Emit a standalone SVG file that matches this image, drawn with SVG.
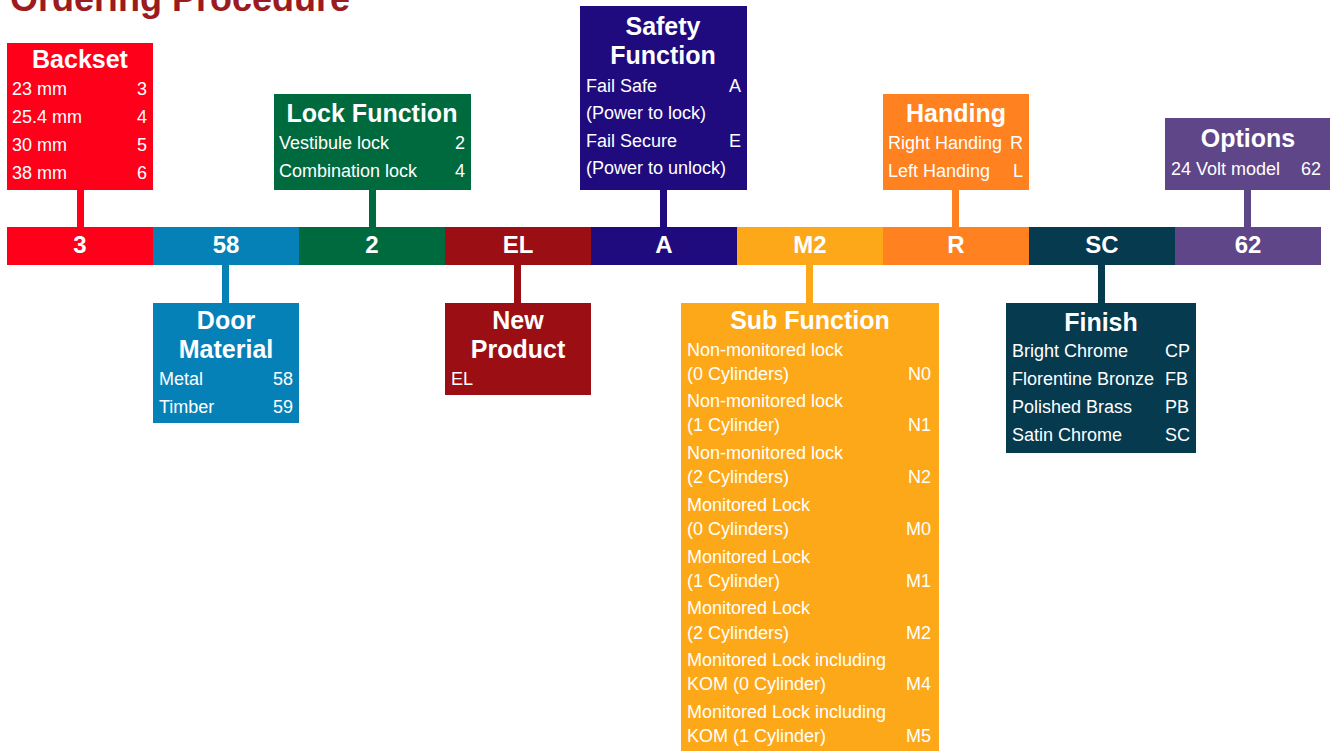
<svg xmlns="http://www.w3.org/2000/svg" width="1332" height="751" viewBox="0 0 1332 751">
<style>
.h{font-family:"Liberation Sans",Arial,sans-serif;font-weight:bold;font-size:25px;fill:#fff;text-anchor:middle}
.b{font-family:"Liberation Sans",Arial,sans-serif;font-size:18px;fill:#fff}
.r{text-anchor:end}
.bar{font-family:"Liberation Sans",Arial,sans-serif;font-weight:bold;font-size:24px;fill:#fff;text-anchor:middle}
.title{font-family:"Liberation Sans",Arial,sans-serif;font-weight:bold;font-size:36px;fill:#9C1B1F}
</style>
<rect width="1332" height="751" fill="#fff"/>
<text class="title" x="10" y="11">Ordering Procedure</text>

<g id="connectors">
<rect x="77" y="189" width="7" height="39" fill="#FF001A"/>
<rect x="369" y="189" width="7" height="39" fill="#006A3F"/>
<rect x="660" y="189" width="7" height="39" fill="#1F0B7E"/>
<rect x="952" y="189" width="7" height="39" fill="#FF8120"/>
<rect x="1244" y="189" width="7" height="39" fill="#5E4689"/>
<rect x="222" y="264" width="7" height="40" fill="#0681B8"/>
<rect x="514" y="264" width="7" height="40" fill="#9B0E13"/>
<rect x="806" y="264" width="7" height="40" fill="#FDA819"/>
<rect x="1098" y="264" width="7" height="40" fill="#063A4F"/>
</g>

<g id="bar">
<rect x="7" y="227" width="146" height="38" fill="#FF001A"/>
<rect x="153" y="227" width="146" height="38" fill="#0681B8"/>
<rect x="299" y="227" width="146" height="38" fill="#006A3F"/>
<rect x="445" y="227" width="146" height="38" fill="#9B0E13"/>
<rect x="591" y="227" width="146" height="38" fill="#1F0B7E"/>
<rect x="737" y="227" width="146" height="38" fill="#FDA819"/>
<rect x="883" y="227" width="146" height="38" fill="#FF8120"/>
<rect x="1029" y="227" width="146" height="38" fill="#063A4F"/>
<rect x="1175" y="227" width="146" height="38" fill="#5E4689"/>
<text class="bar" x="80" y="253">3</text>
<text class="bar" x="226" y="253">58</text>
<text class="bar" x="372" y="253">2</text>
<text class="bar" x="518" y="253">EL</text>
<text class="bar" x="664" y="253">A</text>
<text class="bar" x="810" y="253">M2</text>
<text class="bar" x="956" y="253">R</text>
<text class="bar" x="1102" y="253">SC</text>
<text class="bar" x="1248" y="253">62</text>
</g>

<g id="backset">
<rect x="7" y="43" width="146" height="147" fill="#FF001A"/>
<text class="h" x="80" y="68">Backset</text>
<text class="b" x="12" y="95">23 mm</text><text class="b r" x="147" y="95">3</text>
<text class="b" x="12" y="123">25.4 mm</text><text class="b r" x="147" y="123">4</text>
<text class="b" x="12" y="151">30 mm</text><text class="b r" x="147" y="151">5</text>
<text class="b" x="12" y="179">38 mm</text><text class="b r" x="147" y="179">6</text>
</g>

<g id="lock-function">
<rect x="274" y="94" width="197" height="96" fill="#006A3F"/>
<text class="h" x="372" y="122">Lock Function</text>
<text class="b" x="279" y="149">Vestibule lock</text><text class="b r" x="465" y="149">2</text>
<text class="b" x="279" y="177">Combination lock</text><text class="b r" x="465" y="177">4</text>
</g>

<g id="safety-function">
<rect x="580" y="6" width="167" height="184" fill="#1F0B7E"/>
<text class="h" x="663" y="35">Safety</text>
<text class="h" x="663" y="64">Function</text>
<text class="b" x="586" y="92">Fail Safe</text><text class="b r" x="741" y="92">A</text>
<text class="b" x="586" y="119">(Power to lock)</text>
<text class="b" x="586" y="147">Fail Secure</text><text class="b r" x="741" y="147">E</text>
<text class="b" x="586" y="174">(Power to unlock)</text>
</g>

<g id="handing">
<rect x="883" y="94" width="146" height="96" fill="#FF8120"/>
<text class="h" x="956" y="122">Handing</text>
<text class="b" x="888" y="149">Right Handing</text><text class="b r" x="1023" y="149">R</text>
<text class="b" x="888" y="177">Left Handing</text><text class="b r" x="1023" y="177">L</text>
</g>

<g id="options">
<rect x="1165" y="118" width="165" height="72" fill="#5E4689"/>
<text class="h" x="1248" y="147">Options</text>
<text class="b" x="1171" y="175">24 Volt model</text><text class="b r" x="1321" y="175">62</text>
</g>

<g id="door-material">
<rect x="153" y="303" width="146" height="120" fill="#0681B8"/>
<text class="h" x="226" y="329">Door</text>
<text class="h" x="226" y="358">Material</text>
<text class="b" x="159" y="385">Metal</text><text class="b r" x="293" y="385">58</text>
<text class="b" x="159" y="413">Timber</text><text class="b r" x="293" y="413">59</text>
</g>

<g id="new-product">
<rect x="445" y="303" width="146" height="92" fill="#9B0E13"/>
<text class="h" x="518" y="329">New</text>
<text class="h" x="518" y="358">Product</text>
<text class="b" x="451" y="385">EL</text>
</g>

<g id="sub-function">
<rect x="681" y="303" width="258" height="448" fill="#FDA819"/>
<text class="h" x="810" y="329">Sub Function</text>
<text class="b" x="687" y="356">Non-monitored lock</text>
<text class="b" x="687" y="380">(0 Cylinders)</text><text class="b r" x="931" y="380">N0</text>
<text class="b" x="687" y="407">Non-monitored lock</text>
<text class="b" x="687" y="431">(1 Cylinder)</text><text class="b r" x="931" y="431">N1</text>
<text class="b" x="687" y="459">Non-monitored lock</text>
<text class="b" x="687" y="483">(2 Cylinders)</text><text class="b r" x="931" y="483">N2</text>
<text class="b" x="687" y="511">Monitored Lock</text>
<text class="b" x="687" y="535">(0 Cylinders)</text><text class="b r" x="931" y="535">M0</text>
<text class="b" x="687" y="563">Monitored Lock</text>
<text class="b" x="687" y="587">(1 Cylinder)</text><text class="b r" x="931" y="587">M1</text>
<text class="b" x="687" y="614">Monitored Lock</text>
<text class="b" x="687" y="639">(2 Cylinders)</text><text class="b r" x="931" y="639">M2</text>
<text class="b" x="687" y="666">Monitored Lock including</text>
<text class="b" x="687" y="690">KOM (0 Cylinder)</text><text class="b r" x="931" y="690">M4</text>
<text class="b" x="687" y="718">Monitored Lock including</text>
<text class="b" x="687" y="742">KOM (1 Cylinder)</text><text class="b r" x="931" y="742">M5</text>
</g>

<g id="finish">
<rect x="1006" y="303" width="190" height="150" fill="#063A4F"/>
<text class="h" x="1101" y="331">Finish</text>
<text class="b" x="1012" y="357">Bright Chrome</text><text class="b" x="1165" y="357">CP</text>
<text class="b" x="1012" y="385">Florentine Bronze</text><text class="b" x="1165" y="385">FB</text>
<text class="b" x="1012" y="413">Polished Brass</text><text class="b" x="1165" y="413">PB</text>
<text class="b" x="1012" y="441">Satin Chrome</text><text class="b" x="1165" y="441">SC</text>
</g>
</svg>
